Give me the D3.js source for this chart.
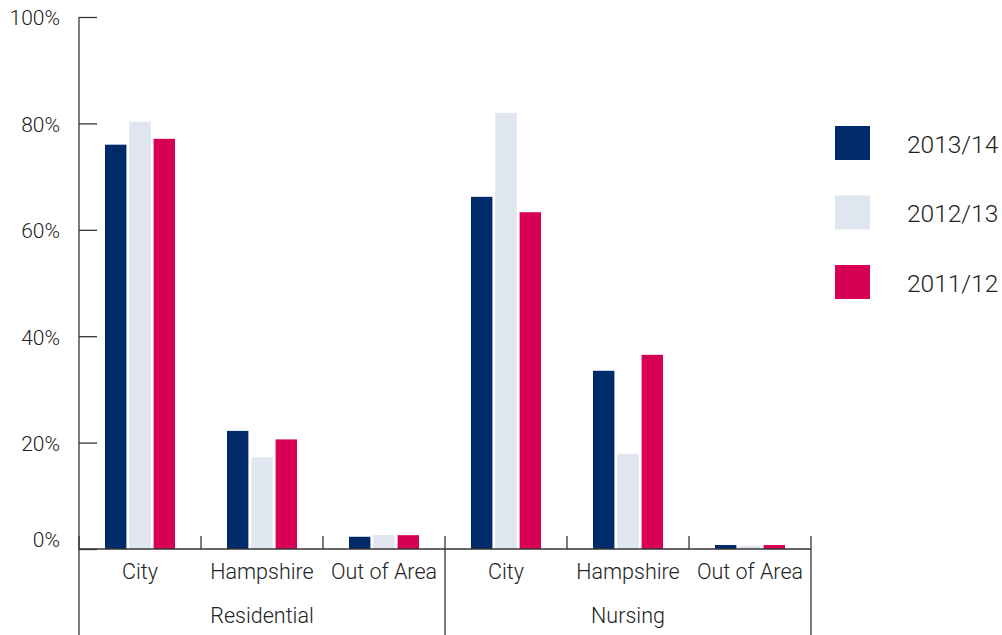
<!DOCTYPE html>
<html><head><meta charset="utf-8">
<script src="https://cdn.jsdelivr.net/npm/d3@7"></script>
<style>body{margin:0;background:#fff}svg{display:block}text{font-family:Roboto,"Liberation Sans",Arial,sans-serif;font-weight:300;fill:#222}</style>
</head><body><svg id="c" width="1002" height="635"></svg>
<script>
const groups = ["Residential", "Nursing"];
const categories = ["City", "Hampshire", "Out of Area"];
const seriesNames = ["2013/14", "2012/13", "2011/12"];
const colors = ["#002b6b", "#dfe6f0", "#d70055"];
const v2013 = [76, 22.2, 2.3, 66.2, 33.5, 0.75];
const v2012 = [80.3, 17.2, 2.6, 82.0, 17.9, 0.6];
const v2011 = [77.1, 20.6, 2.6, 63.3, 36.5, 0.75];
const yTicks = [0, 20, 40, 60, 80, 100];

const series = [v2013, v2012, v2011];
const svg = d3.select("#c");
const x0 = 79, x1 = 811, yTop = 17, yBase = 549;
const stroke = "#333";

const cats = [];
groups.forEach(g => categories.forEach(c => cats.push(g + "|" + c)));
const xCat = d3.scaleBand().domain(cats).range([x0, x1]);
const xGroup = d3.scaleBand().domain(groups).range([x0, x1]);
const y = d3.scaleLinear().domain([0, 100]).range([yBase, yTop]);
const xSer = d3.scaleBand().domain(d3.range(3)).range([-35, 35]).paddingInner(0.12);

// bars
series.forEach((vals, si) => {
  svg.append("g").selectAll("rect").data(vals).join("rect")
    .attr("x", (d, i) => xCat(cats[i]) + xCat.bandwidth() / 2 + xSer(si))
    .attr("width", xSer.bandwidth())
    .attr("y", d => y(d))
    .attr("height", d => yBase - y(d))
    .attr("fill", colors[si]);
});

// y axis
const yAxis = d3.axisRight(y).tickValues(yTicks).tickSize(18).tickFormat(d => "");
const ga = svg.append("g").attr("transform", `translate(${x0},0)`).call(yAxis);
ga.select(".domain").remove();
ga.selectAll("line").attr("stroke", stroke).attr("stroke-width", 1.3);
svg.append("line").attr("x1", x0).attr("x2", x0).attr("y1", yTop).attr("y2", 635).attr("stroke", stroke).attr("stroke-width", 1.3);
svg.append("g").selectAll("text").data(yTicks).join("text")
  .attr("x", 60).attr("y", d => Math.min(y(d) + 1, yBase - 9)).attr("dy", "0.35em")
  .attr("text-anchor", "end").attr("font-size", 21).text(d => d + "%");

// baseline
svg.append("line").attr("x1", x0).attr("x2", x1).attr("y1", yBase).attr("y2", yBase).attr("stroke", stroke).attr("stroke-width", 1.3);
// category separators
const seps = cats.map(c => xCat(c) + xCat.bandwidth()).concat([x0]);
svg.append("g").selectAll("line").data(seps).join("line")
  .attr("x1", d => d).attr("x2", d => d)
  .attr("y1", yBase - 13)
  .attr("y2", d => {
    const isGroupEdge = groups.some(g => Math.abs(xGroup(g) + xGroup.bandwidth() - d) < 0.5);
    return isGroupEdge ? 635 : yBase;
  })
  .attr("stroke", stroke).attr("stroke-width", 1.3);

// category labels
svg.append("g").selectAll("text").data(cats).join("text")
  .attr("x", d => xCat(d) + xCat.bandwidth() / 2).attr("y", 571).attr("dy", "0.35em")
  .attr("text-anchor", "middle").attr("font-size", 21.5).text(d => d.split("|")[1]);
svg.append("g").selectAll("text").data(groups).join("text")
  .attr("x", d => xGroup(d) + xGroup.bandwidth() / 2).attr("y", 615).attr("dy", "0.35em")
  .attr("text-anchor", "middle").attr("font-size", 21.5).text(d => d);

// legend
const leg = svg.append("g").selectAll("g").data(seriesNames).join("g")
  .attr("transform", (d, i) => `translate(835,${126 + i * 69.5})`);
leg.append("rect").attr("width", 35).attr("height", 34).attr("fill", (d, i) => colors[i]);
leg.append("text").attr("x", 72).attr("y", 18).attr("dy", "0.35em").attr("font-size", 24.5).text(d => d);
</script></body></html>
